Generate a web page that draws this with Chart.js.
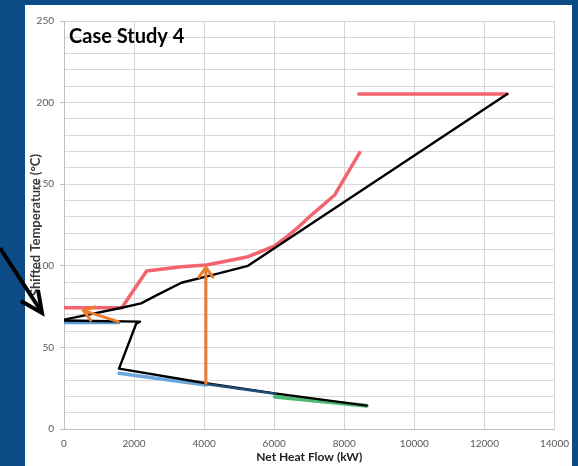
<!DOCTYPE html>
<html>
<head>
<meta charset="utf-8">
<script src="https://cdn.jsdelivr.net/npm/chart.js@4/dist/chart.umd.min.js"></script>
<style>
  html, body { margin: 0; padding: 0; }
  body { width: 578px; height: 466px; background: #0d4b87; position: relative; overflow: hidden; }
  .panel { position: absolute; left: 25px; top: 5px; width: 547px; height: 461px; background: #fff; }
  #chart { position: absolute; left: 0; top: 0; }
  .pointer { position: absolute; left: 0; top: 0; pointer-events: none; }
</style>
</head>
<body>
<div class="panel"></div>
<canvas id="chart" width="578" height="466"></canvas>
<!-- slide pointer arrow, not part of the chart -->
<svg class="pointer" width="578" height="466">
  <line x1="0" y1="248" x2="41" y2="311" stroke="#000" stroke-width="4"/>
  <polyline points="21,301 42,313 38,290" fill="none" stroke="#000" stroke-width="4"/>
</svg>
<script>
// values: x = Net Heat Flow (kW), y = Shifted Temperature (C)
const blackUpperX = [0, 1650, 2200, 2650, 3350, 4250, 5250, 12650];
const blackUpperY = [67, 74.3, 77, 82, 89.6, 94.4, 100, 205.3];

const blackLowerX = [0, 2170, 2060, 1570, 4050, 6020, 8640];
const blackLowerY = [66.5, 65.8, 64.5, 37, 28, 21.8, 14.3];

const redCurveX = [0, 1650, 2357, 3355, 4068, 5256, 6000, 6400, 6730, 7109, 7727, 8440];
const redCurveY = [74.3, 74.3, 96.8, 99.4, 100.5, 105.6, 112, 118.5, 124.5, 132, 143.4, 169.3];

const redTopX = [8412, 12650];
const redTopY = [205.3, 205.3];

const blueFlatX = [0, 1560];
const blueFlatY = [65.2, 65.2];

const blueLowX = [1568, 4050];
const blueLowY = [34.2, 27];

const navyX = [4050, 6020];
const navyY = [27.6, 21.6];

const greenX = [6020, 8640];
const greenY = [19.8, 14.2];

const arrowUpX = [4050, 4050];
const arrowUpY = [28, 99];

const arrowLeftX = [1550, 560];
const arrowLeftY = [65.8, 72.5];

const xTicks = [0, 2000, 4000, 6000, 8000, 10000, 12000, 14000];

function pts(xs, ys) {
  return xs.map((x, i) => ({ x: x, y: ys[i] }));
}

function line(xs, ys, color, width, extra) {
  return Object.assign({
    data: pts(xs, ys),
    showLine: true,
    borderColor: color,
    backgroundColor: color,
    borderWidth: width,
    borderJoinStyle: 'round',
    borderCapStyle: 'round',
    pointRadius: 0,
    tension: 0,
    fill: false
  }, extra || {});
}

// arrow heads, chart title and rotated y title
const extras = {
  id: 'extras',
  afterDatasetsDraw(chart) {
    const ctx = chart.ctx;
    chart.data.datasets.forEach((ds, i) => {
      if (!ds.arrowHead) return;
      const p = chart.getDatasetMeta(i).data;
      const a = p[p.length - 2], b = p[p.length - 1];
      const ang = Math.atan2(b.y - a.y, b.x - a.x);
      const len = 12, spread = Math.PI / 5;
      ctx.save();
      ctx.strokeStyle = ds.borderColor;
      ctx.lineWidth = ds.borderWidth;
      ctx.lineCap = 'round';
      ctx.beginPath();
      ctx.moveTo(b.x - len * Math.cos(ang - spread), b.y - len * Math.sin(ang - spread));
      ctx.lineTo(b.x, b.y);
      ctx.lineTo(b.x - len * Math.cos(ang + spread), b.y - len * Math.sin(ang + spread));
      ctx.stroke();
      ctx.restore();
    });
  },
  afterDraw(chart) {
    const ctx = chart.ctx;
    const area = chart.chartArea;
    ctx.save();
    ctx.fillStyle = '#000';
    ctx.font = 'bold 20px Lato';
    ctx.textBaseline = 'alphabetic';
    ctx.textAlign = 'left';
    ctx.fillText('Case Study 4', area.left + 5, area.top + 22);

    ctx.translate(area.left - 28, (area.top + area.bottom) / 2);
    ctx.rotate(-Math.PI / 2);
    ctx.textAlign = 'center';
    ctx.textBaseline = 'middle';
    ctx.fillStyle = '#3a3a3a';
    ctx.font = 'bold 13px Lato';
    ctx.fillText('Shifted Temperature (°C)', 0, 0);
    ctx.restore();
  }
};

Chart.defaults.font.family = 'Lato';

new Chart(document.getElementById('chart'), {
  type: 'scatter',
  data: {
    datasets: [
      line(arrowUpX, arrowUpY, '#ec7d2d', 3, { arrowHead: true }),
      line(arrowLeftX, arrowLeftY, '#ec7d2d', 3, { arrowHead: true }),
      line(navyX, navyY, '#1f4e79', 2.5),
      line(blackUpperX, blackUpperY, '#000', 2.4),
      line(blackLowerX, blackLowerY, '#000', 2.4),
      line(blueFlatX, blueFlatY, '#5b9bd5', 3.5),
      line(blueLowX, blueLowY, '#6aa6dc', 3.5),
      line(greenX, greenY, '#4cba74', 4),
      line(redTopX, redTopY, '#f2646e', 3.5),
      line(redCurveX, redCurveY, '#f2646e', 3.5)
    ]
  },
  options: {
    responsive: false,
    devicePixelRatio: 1,
    animation: false,
    layout: { padding: { left: 0, top: 21, right: 23, bottom: 0 } },
    plugins: {
      legend: { display: false },
      tooltip: { enabled: false }
    },
    scales: {
      x: {
        type: 'linear',
        min: 0,
        max: 14000,
        afterBuildTicks: (s) => { s.ticks = xTicks.map(v => ({ value: v })); },
        afterFit: (s) => { s.height = 37; },
        grid: { color: '#d4d4d4', drawTicks: false },
        border: { color: '#bfbfbf' },
        ticks: {
          color: '#595959',
          font: { size: 10 },
          padding: 9,
          maxRotation: 0,
          autoSkip: false,
          callback: (v) => String(v)
        },
        title: {
          display: true,
          text: 'Net Heat Flow (kW)',
          color: '#222',
          font: { size: 12, weight: 'bold' },
          padding: { top: 0, bottom: 2 }
        }
      },
      y: {
        min: 0,
        max: 250,
        afterFit: (s) => { s.width = 64; },
        grid: {
          color: '#d9d9d9',
          tickLength: 4,
          tickColor: (c) => (c.tick && c.tick.value % 50 === 0 ? '#bfbfbf' : 'rgba(0,0,0,0)')
        },
        border: { color: '#bfbfbf' },
        ticks: {
          stepSize: 10,
          autoSkip: false,
          color: '#595959',
          font: { size: 10 },
          padding: 6,
          callback: (v) => (v % 50 === 0 ? String(v) : '')
        }
      }
    }
  },
  plugins: [extras]
});
</script>
</body>
</html>
